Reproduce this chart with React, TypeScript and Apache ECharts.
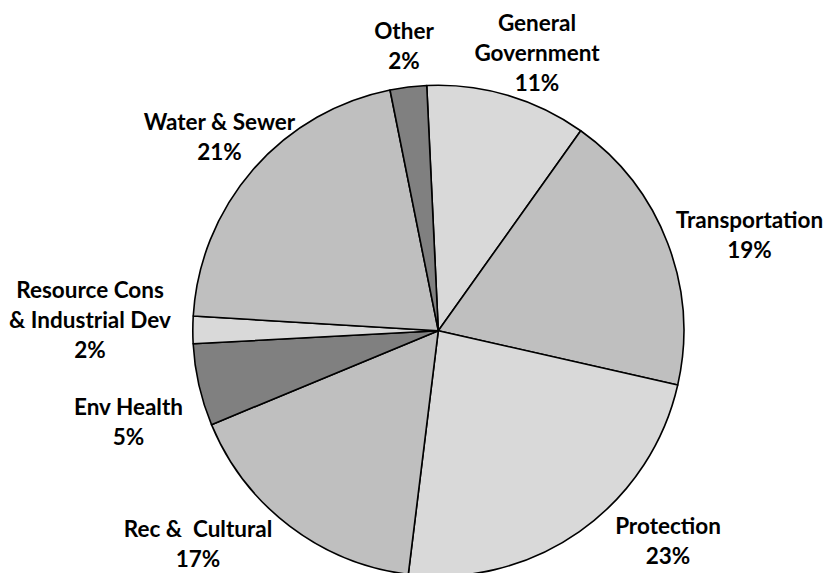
import React, { useEffect, useRef } from "react";
import * as echarts from "echarts";

const categories = [
  "General\nGovernment",
  "Transportation",
  "Protection",
  "Rec &  Cultural",
  "Env Health",
  "Resource Cons\n& Industrial Dev",
  "Water & Sewer",
  "Other",
];
const values = [10.6, 18.7, 23.4, 16.8, 5.4, 1.8, 20.9, 2.4];
const sliceColors = ["#d9d9d9", "#bfbfbf", "#d9d9d9", "#bfbfbf", "#808080", "#d9d9d9", "#bfbfbf", "#808080"];
const labelAnchors: number[][] = [
  [537, 52],
  [749.5, 234.5],
  [668, 540],
  [198, 543],
  [128.5, 421],
  [90, 319.5],
  [219.5, 136.5],
  [404, 45],
];

export default function App() {
  const ref = useRef<HTMLDivElement>(null);
  useEffect(() => {
    if (!ref.current) return;
    const chart = echarts.init(ref.current, undefined, { renderer: "svg" });
    chart.setOption({
      animation: false,
      backgroundColor: "#ffffff",
      series: [
        {
          type: "pie",
          center: [438.3, 330.7],
          radius: [0, 245.5],
          startAngle: 92.7,
          clockwise: true,
          percentPrecision: 0,
          avoidLabelOverlap: false,
          data: categories.map((name, i) => ({
            name,
            value: values[i],
            itemStyle: { color: sliceColors[i] },
          })),
          itemStyle: { borderColor: "#000000", borderWidth: 1.6 },
          emphasis: { disabled: true },
          label: {
            show: true,
            position: "outside",
            formatter: "{b}\n{d}%",
            color: "#000000",
            fontFamily: "Lato",
            fontWeight: "bold",
            fontSize: 22.5,
            lineHeight: 30,
            align: "center",
          },
          labelLine: { show: false },
          labelLayout: (params: any) => ({
            x: labelAnchors[params.dataIndex][0],
            y: labelAnchors[params.dataIndex][1],
            align: "center",
            verticalAlign: "middle",
          }),
        },
      ],
    });
    return () => chart.dispose();
  }, []);
  return (
    <div
      ref={ref}
      style={{ position: "fixed", left: 0, top: 0, width: 826, height: 573 }}
    />
  );
}
